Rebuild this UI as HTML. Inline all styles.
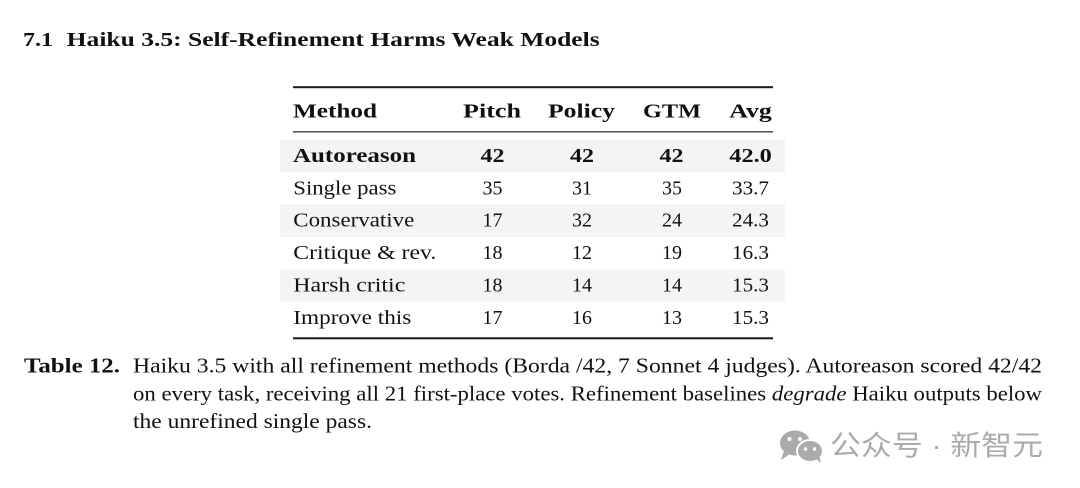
<!DOCTYPE html>
<html>
<head>
<meta charset="utf-8">
<style>
  html,body{margin:0;padding:0;background:#fff;}
  body{width:1080px;height:488px;overflow:hidden;}
  svg{display:block;}
  .s{font-family:"Liberation Serif", serif;fill:#111;}
  .b{font-weight:bold;}
  .cjk{font-family:"Liberation Sans","Noto Sans CJK SC",sans-serif;fill:#ababab;}
</style>
</head>
<body>
<svg width="1080" height="488" viewBox="0 0 1080 488" xmlns="http://www.w3.org/2000/svg">
  <rect x="0" y="0" width="1080" height="488" fill="#ffffff"/>

  <!-- Section title -->
  <text class="s b" x="23" y="46" font-size="20" textLength="30" lengthAdjust="spacingAndGlyphs">7.1</text>
  <text class="s b" x="66.7" y="46" font-size="20" textLength="533" lengthAdjust="spacingAndGlyphs">Haiku 3.5: Self-Refinement Harms Weak Models</text>

  <!-- Row shading -->
  <rect x="280" y="139.8" width="505" height="32.4" fill="#f4f4f7"/>
  <rect x="280" y="204.6" width="505" height="32.4" fill="#f4f4f7"/>
  <rect x="280" y="269.4" width="505" height="32.4" fill="#f4f4f7"/>

  <!-- Rules -->
  <rect x="293" y="86.2" width="480" height="2" fill="#1a1a1a"/>
  <rect x="293" y="131.2" width="480" height="1.3" fill="#333"/>
  <rect x="293" y="337.3" width="480" height="2" fill="#1a1a1a"/>

  <!-- Header -->
  <text class="s b" x="293" y="117.3" font-size="20" textLength="84" lengthAdjust="spacingAndGlyphs">Method</text>
  <text class="s b" x="463" y="117.3" font-size="20" textLength="58" lengthAdjust="spacingAndGlyphs">Pitch</text>
  <text class="s b" x="548" y="117.3" font-size="20" textLength="67" lengthAdjust="spacingAndGlyphs">Policy</text>
  <text class="s b" x="643" y="117.3" font-size="20" textLength="58" lengthAdjust="spacingAndGlyphs">GTM</text>
  <text class="s b" x="729.3" y="117.3" font-size="20" textLength="42.5" lengthAdjust="spacingAndGlyphs">Avg</text>

  <!-- Autoreason (bold) -->
  <text class="s b" x="293" y="161.8" font-size="20" textLength="123" lengthAdjust="spacingAndGlyphs">Autoreason</text>
  <text class="s b" x="480.5" y="161.8" font-size="20" textLength="24" lengthAdjust="spacingAndGlyphs">42</text>
  <text class="s b" x="570" y="161.8" font-size="20" textLength="24" lengthAdjust="spacingAndGlyphs">42</text>
  <text class="s b" x="659.5" y="161.8" font-size="20" textLength="24" lengthAdjust="spacingAndGlyphs">42</text>
  <text class="s b" x="729.3" y="161.8" font-size="20" textLength="42.5" lengthAdjust="spacingAndGlyphs">42.0</text>

  <!-- Single pass -->
  <text class="s" x="293.3" y="194.3" font-size="20" textLength="103" lengthAdjust="spacingAndGlyphs">Single pass</text>
  <text class="s" x="482.5" y="194.3" font-size="20" textLength="20" lengthAdjust="spacingAndGlyphs">35</text>
  <text class="s" x="572" y="194.3" font-size="20" textLength="20" lengthAdjust="spacingAndGlyphs">31</text>
  <text class="s" x="662" y="194.3" font-size="20" textLength="20" lengthAdjust="spacingAndGlyphs">35</text>
  <text class="s" x="732" y="194.3" font-size="20" textLength="37" lengthAdjust="spacingAndGlyphs">33.7</text>

  <!-- Conservative -->
  <text class="s" x="293.3" y="226.7" font-size="20" textLength="121" lengthAdjust="spacingAndGlyphs">Conservative</text>
  <text class="s" x="482.5" y="226.7" font-size="20" textLength="20" lengthAdjust="spacingAndGlyphs">17</text>
  <text class="s" x="572" y="226.7" font-size="20" textLength="20" lengthAdjust="spacingAndGlyphs">32</text>
  <text class="s" x="662" y="226.7" font-size="20" textLength="20" lengthAdjust="spacingAndGlyphs">24</text>
  <text class="s" x="732" y="226.7" font-size="20" textLength="37" lengthAdjust="spacingAndGlyphs">24.3</text>

  <!-- Critique & rev. -->
  <text class="s" x="293.3" y="259.1" font-size="20" textLength="143" lengthAdjust="spacingAndGlyphs">Critique &amp; rev.</text>
  <text class="s" x="482.5" y="259.1" font-size="20" textLength="20" lengthAdjust="spacingAndGlyphs">18</text>
  <text class="s" x="572" y="259.1" font-size="20" textLength="20" lengthAdjust="spacingAndGlyphs">12</text>
  <text class="s" x="662" y="259.1" font-size="20" textLength="20" lengthAdjust="spacingAndGlyphs">19</text>
  <text class="s" x="732" y="259.1" font-size="20" textLength="37" lengthAdjust="spacingAndGlyphs">16.3</text>

  <!-- Harsh critic -->
  <text class="s" x="293.3" y="291.6" font-size="20" textLength="112" lengthAdjust="spacingAndGlyphs">Harsh critic</text>
  <text class="s" x="482.5" y="291.6" font-size="20" textLength="20" lengthAdjust="spacingAndGlyphs">18</text>
  <text class="s" x="572" y="291.6" font-size="20" textLength="20" lengthAdjust="spacingAndGlyphs">14</text>
  <text class="s" x="662" y="291.6" font-size="20" textLength="20" lengthAdjust="spacingAndGlyphs">14</text>
  <text class="s" x="732" y="291.6" font-size="20" textLength="37" lengthAdjust="spacingAndGlyphs">15.3</text>

  <!-- Improve this -->
  <text class="s" x="293.3" y="324" font-size="20" textLength="118" lengthAdjust="spacingAndGlyphs">Improve this</text>
  <text class="s" x="482.5" y="324" font-size="20" textLength="20" lengthAdjust="spacingAndGlyphs">17</text>
  <text class="s" x="572" y="324" font-size="20" textLength="20" lengthAdjust="spacingAndGlyphs">16</text>
  <text class="s" x="662" y="324" font-size="20" textLength="20" lengthAdjust="spacingAndGlyphs">13</text>
  <text class="s" x="732" y="324" font-size="20" textLength="37" lengthAdjust="spacingAndGlyphs">15.3</text>

  <!-- Caption -->
  <text class="s b" x="24" y="372.7" font-size="21" textLength="96" lengthAdjust="spacingAndGlyphs">Table 12.</text>
  <text class="s" x="133" y="372.7" font-size="21" textLength="909" lengthAdjust="spacingAndGlyphs">Haiku 3.5 with all refinement methods (Borda /42, 7 Sonnet 4 judges). Autoreason scored 42/42</text>
  <text class="s" x="133" y="400.3" font-size="21" textLength="909" lengthAdjust="spacingAndGlyphs">on every task, receiving all 21 first-place votes. Refinement baselines <tspan font-style="italic">degrade</tspan> Haiku outputs below</text>
  <text class="s" x="133" y="428.2" font-size="21" textLength="239" lengthAdjust="spacingAndGlyphs">the unrefined single pass.</text>

  <!-- Watermark icon (WeChat-like) -->
  <g fill="#ababab">
    <ellipse cx="795" cy="443" rx="15" ry="12.5"/>
    <path d="M784 451 L781 460 L790 454 Z"/>
    <ellipse cx="810" cy="451" rx="13" ry="11" stroke="#ffffff" stroke-width="2"/>
    <path d="M815 458 L821 463 L819 455 Z"/>
  </g>
  <g fill="#ffffff">
    <circle cx="789.5" cy="439" r="2"/>
    <circle cx="800" cy="439" r="2"/>
    <circle cx="805.5" cy="449" r="1.7"/>
    <circle cx="814.5" cy="449" r="1.7"/>
  </g>
  <text class="cjk" x="830" y="455" font-size="28" textLength="213" lengthAdjust="spacingAndGlyphs">公众号 · 新智元</text>
</svg>
</body>
</html>
